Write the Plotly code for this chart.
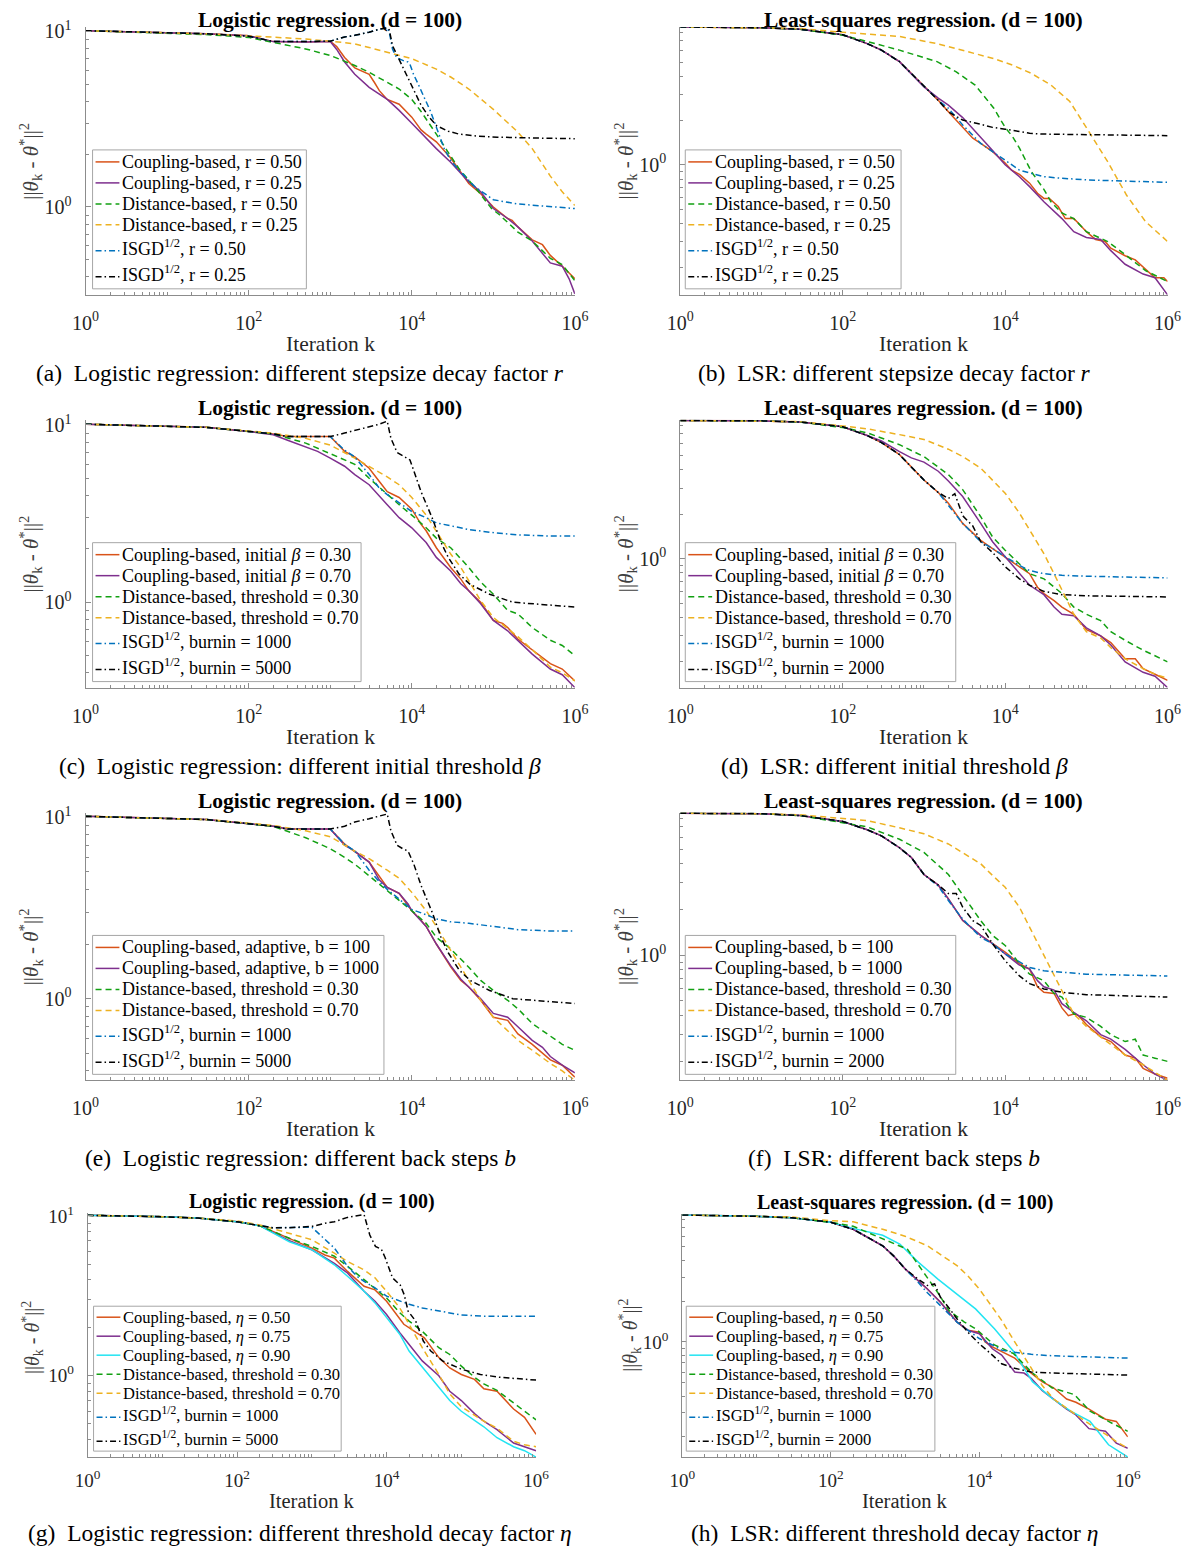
import math
import plotly.graph_objects as go

W, H = 1195, 1548
FONT = "Liberation Serif, Times New Roman, serif"

C_ORANGE = "#D95319"
C_PURPLE = "#7E2F8E"
C_GREEN = "#12A012"
C_YELLOW = "#EDB120"
C_BLUE = "#0072BD"
C_BLACK = "#000000"
C_CYAN = "#22E4F2"

X_TICKS = [1, 100, 1e4, 1e6]
X_TICK_TEXT = ["10<sup>0</sup>", "10<sup>2</sup>", "10<sup>4</sup>", "10<sup>6</sup>"]
Y_TICKS_LOGREG = [1, 10]
Y_TICK_TEXT_LOGREG = ["10<sup>0</sup>", "10<sup>1</sup>"]
Y_TICKS_LSR = [1]
Y_TICK_TEXT_LSR = ["10<sup>0</sup>"]

a_coup050 = [(1, 10.1), (10, 9.8), (30, 9.7), (100, 9.45), (200, 8.75), (500, 8.7), (1000, 8.8), (1200, 8.2),
             (1500, 7.1), (2000, 6.2), (2500, 5.95), (3000, 5.7), (3500, 5.1), (4000, 4.6), (5000, 4.1),
             (7000, 3.85), (1e4, 3.25), (1.3e4, 2.75), (1.5e4, 2.6), (2e4, 2.35), (3e4, 1.9), (5e4, 1.36),
             (7e4, 1.19), (1e5, 1.0), (1.5e5, 0.86), (1.7e5, 0.84), (2e5, 0.77), (3e5, 0.65), (4e5, 0.61),
             (5e5, 0.53), (7e5, 0.46), (1e6, 0.39)]
a_coup025 = [(1, 10.1), (10, 9.8), (30, 9.7), (100, 9.45), (200, 8.75), (500, 8.7), (1000, 8.75), (1200, 7.9),
             (1500, 6.7), (2000, 5.7), (3000, 4.8), (5000, 4.1), (7000, 3.55), (1e4, 3.0), (1.5e4, 2.45),
             (2e4, 2.15), (3e4, 1.8), (5e4, 1.39), (7e4, 1.22), (1e5, 0.98), (1.5e5, 0.86), (2e5, 0.77),
             (3e5, 0.64), (5e5, 0.48), (7e5, 0.46), (8.5e5, 0.39), (1e6, 0.32)]
a_dist050 = [(1, 10.1), (10, 9.8), (30, 9.6), (100, 9.25), (200, 8.7), (500, 7.95), (1000, 7.3), (1500, 6.8),
             (2000, 6.4), (3000, 5.85), (5000, 5.1), (7000, 4.7), (1e4, 4.1), (1.3e4, 3.5), (2e4, 2.6),
             (2.8e4, 2.05), (3.8e4, 1.65), (6.6e4, 1.22), (9.5e4, 0.98), (1.2e5, 0.9), (2e5, 0.72), (3e5, 0.64),
             (5e5, 0.51), (7e5, 0.47), (1e6, 0.38)]
a_dist025 = [(1, 10.1), (10, 9.8), (30, 9.7), (100, 9.45), (200, 9.3), (500, 9.05), (1000, 8.8), (2000, 8.5),
             (3000, 8.1), (5000, 7.6), (1e4, 7.0), (2e4, 6.1), (3e4, 5.5), (5e4, 4.7), (1e5, 3.6), (2e5, 2.67),
             (3e5, 2.15), (5e5, 1.5), (7e5, 1.22), (1e6, 1.02)]
a_isgd050 = [(1, 10.1), (10, 9.8), (30, 9.7), (100, 9.4), (200, 8.75), (500, 8.75), (1000, 8.8), (1500, 9.3),
             (2000, 9.5), (3000, 9.9), (4000, 10.3), (5000, 10.5), (5300, 9.9), (5800, 7.95), (6500, 7.1),
             (8000, 6.8), (9000, 6.7), (9500, 6.5), (10500, 5.7), (12000, 5.0), (14000, 4.3), (17000, 3.5),
             (2e4, 2.85), (2.5e4, 2.15), (3e4, 1.84), (4e4, 1.58), (6e4, 1.3), (8e4, 1.18), (1e5, 1.1),
             (2e5, 1.04), (4e5, 1.01), (1e6, 0.98)]
a_isgd025 = [(1, 10.1), (10, 9.8), (30, 9.7), (100, 9.4), (200, 8.75), (500, 8.75), (1000, 8.8), (1500, 9.3),
             (2000, 9.5), (3000, 9.9), (4000, 10.3), (5000, 10.5), (5300, 10.2), (5800, 8.3), (6900, 7.0),
             (8500, 5.7), (10500, 4.6), (13000, 3.8), (16300, 3.25), (20300, 2.9), (28000, 2.7), (38000, 2.6),
             (66000, 2.53), (1.12e5, 2.5), (3.4e5, 2.47), (1e6, 2.45)]

b_coup050 = [(1, 8.7), (10, 8.6), (30, 8.4), (100, 7.7), (200, 6.7), (300, 6.05), (500, 5.05), (700, 4.2),
             (1000, 3.4), (1500, 2.75), (2000, 2.3), (3000, 1.82), (4000, 1.52), (5000, 1.4), (7000, 1.23),
             (1e4, 1.03), (1.2e4, 0.92), (1.5e4, 0.86), (2e4, 0.75), (2.5e4, 0.64), (3e4, 0.59), (3.5e4, 0.59),
             (4.5e4, 0.52), (5.5e4, 0.43), (7e4, 0.43), (8e4, 0.4), (1e5, 0.35), (1.3e5, 0.31), (1.7e5, 0.3),
             (2e5, 0.27), (3e5, 0.24), (4e5, 0.225), (5e5, 0.2), (7e5, 0.17), (9e5, 0.17), (1e6, 0.16)]
b_coup025 = [(1, 8.7), (10, 8.6), (30, 8.4), (100, 7.7), (200, 6.7), (300, 6.05), (500, 5.05), (700, 4.2),
             (1000, 3.4), (1500, 2.85), (2000, 2.55), (3000, 2.1), (5000, 1.55), (7000, 1.25), (1e4, 1.0),
             (1.5e4, 0.83), (2e4, 0.71), (3e4, 0.56), (5e4, 0.43), (7e4, 0.35), (1e5, 0.32), (1.5e5, 0.31),
             (2e5, 0.26), (3e5, 0.21), (5e5, 0.18), (7e5, 0.17), (1e6, 0.13)]
b_dist050 = [(1, 8.7), (10, 8.6), (30, 8.4), (100, 7.65), (170, 7.1), (500, 6.05), (1450, 5.05), (2500, 4.3),
             (4270, 3.5), (7250, 2.43), (1e4, 1.8), (12400, 1.55), (15000, 1.3), (21000, 0.9), (3e4, 0.68),
             (36600, 0.56), (5e4, 0.47), (7e4, 0.43), (1e5, 0.35), (1.83e5, 0.3), (3.13e5, 0.24),
             (5.36e5, 0.19), (1e6, 0.16)]
b_dist025 = [(1, 8.7), (10, 8.6), (30, 8.5), (100, 8.0), (200, 7.8), (500, 7.5), (1450, 6.7), (4270, 5.75),
             (7250, 5.3), (12400, 4.78), (21000, 4.2), (36600, 3.5), (62600, 2.7), (1.07e5, 1.69),
             (1.83e5, 1.05), (3.13e5, 0.62), (5.36e5, 0.41), (1e6, 0.3)]
b_isgd050 = [(1, 8.7), (10, 8.6), (30, 8.4), (100, 7.7), (200, 6.7), (300, 6.05), (500, 5.05), (700, 4.2),
             (1000, 3.4), (1500, 2.75), (2000, 2.43), (3000, 1.87), (5000, 1.4), (7000, 1.23), (1e4, 1.08),
             (1.5e4, 0.92), (2e4, 0.88), (3e4, 0.83), (5e4, 0.81), (1e5, 0.79), (2e5, 0.78), (1e6, 0.76)]
b_isgd025 = [(1, 8.7), (10, 8.6), (30, 8.4), (100, 7.7), (200, 6.7), (300, 6.05), (500, 5.05), (700, 4.2),
             (1000, 3.4), (1500, 2.75), (2000, 2.3), (3000, 2.02), (5000, 1.89), (7000, 1.8), (1e4, 1.75),
             (2e4, 1.64), (3e4, 1.62), (1e5, 1.6), (1e6, 1.58)]

c_coup030 = [(1, 10.1), (10, 9.8), (30, 9.7), (100, 9.2), (200, 8.9), (300, 8.6), (500, 8.6), (1000, 8.6),
             (1500, 7.1), (2000, 6.6), (2500, 6.1), (3000, 5.7), (4000, 4.8), (5000, 4.2), (7000, 3.9),
             (1e4, 3.35), (1.3e4, 2.75), (1.5e4, 2.53), (2e4, 2.03), (3e4, 1.57), (4e4, 1.35), (5e4, 1.16),
             (7e4, 1.0), (1e5, 0.79), (1.3e5, 0.76), (1.5e5, 0.72), (2e5, 0.62), (3e5, 0.54), (5e5, 0.45),
             (7e5, 0.42), (1e6, 0.36)]
c_coup070 = [(1, 10.1), (10, 9.8), (30, 9.7), (100, 9.2), (200, 8.8), (300, 8.2), (500, 7.55), (700, 7.1),
             (1000, 6.5), (1500, 5.85), (2000, 5.25), (3000, 4.6), (5000, 3.55), (7000, 3.0), (1e4, 2.63),
             (1.5e4, 2.17), (2e4, 1.79), (3e4, 1.5), (4e4, 1.27), (5e4, 1.16), (7e4, 0.98), (1e5, 0.79),
             (1.5e5, 0.69), (2e5, 0.61), (3e5, 0.51), (5e5, 0.42), (7e5, 0.39), (1e6, 0.33)]
c_dist030 = [(1, 10.1), (10, 9.8), (30, 9.7), (100, 9.2), (200, 8.9), (500, 7.9), (1000, 6.9), (1500, 6.35),
             (2000, 6.0), (3000, 5.0), (5000, 4.05), (7000, 3.55), (1e4, 3.1), (1.5e4, 2.63), (2e4, 2.3),
             (3e4, 2.03), (5e4, 1.57), (7e4, 1.3), (1e5, 1.11), (1.5e5, 0.9), (2e5, 0.86), (3e5, 0.72),
             (5e5, 0.61), (7e5, 0.57), (1e6, 0.5)]
c_dist070 = [(1, 10.1), (10, 9.8), (30, 9.7), (100, 9.25), (200, 9.0), (500, 8.4), (1000, 7.7), (2000, 6.5),
             (3000, 5.85), (5000, 5.1), (7000, 4.6), (1e4, 3.9), (1.5e4, 3.1), (2e4, 2.52), (3e4, 1.87),
             (4e4, 1.57), (5e4, 1.32), (7e4, 1.02), (1e5, 0.82), (2e5, 0.64), (3e5, 0.54), (5e5, 0.43),
             (7e5, 0.4), (1e6, 0.36)]
c_isgd1000 = [(1, 10.1), (10, 9.8), (30, 9.7), (100, 9.2), (200, 8.9), (300, 8.6), (500, 8.6), (1000, 8.6),
              (1500, 7.2), (2000, 6.6), (3000, 5.25), (4000, 4.4), (5000, 4.05), (7000, 3.65), (1e4, 3.25),
              (1.5e4, 3.0), (2e4, 2.8), (3e4, 2.7), (5e4, 2.57), (1e5, 2.47), (2e5, 2.4), (5e5, 2.36),
              (1e6, 2.36)]
c_isgd5000 = [(1, 10.1), (10, 9.8), (30, 9.7), (100, 9.2), (200, 8.9), (300, 8.6), (500, 8.6), (1000, 8.6),
              (1500, 9.0), (2000, 9.3), (3000, 9.8), (4000, 10.1), (5000, 10.5), (5550, 8.4), (6600, 7.0),
              (7740, 6.7), (9000, 6.5), (9500, 6.35), (10600, 5.5), (13000, 4.2), (18000, 2.95),
              (22600, 2.2), (28000, 1.79), (38000, 1.44), (52000, 1.26), (90000, 1.11), (1.73e5, 1.0),
              (3.2e5, 0.98), (1e6, 0.94)]

d_coup030 = [(1, 8.6), (10, 8.55), (30, 8.4), (100, 7.8), (200, 6.8), (300, 6.1), (500, 5.05), (700, 4.2),
             (1000, 3.4), (1500, 2.8), (2000, 2.37), (3000, 1.73), (5000, 1.33), (7000, 1.17), (1e4, 1.03),
             (1.5e4, 0.88), (2e4, 0.79), (2.5e4, 0.64), (3e4, 0.58), (4e4, 0.52), (5e4, 0.47), (7e4, 0.42),
             (1e5, 0.33), (1.5e5, 0.3), (2e5, 0.27), (3e5, 0.21), (4e5, 0.21), (5e5, 0.18), (7e5, 0.165),
             (1e6, 0.15)]
d_coup070 = [(1, 8.6), (10, 8.55), (30, 8.4), (100, 7.8), (200, 6.8), (300, 6.25), (500, 5.3), (700, 4.8),
             (1000, 4.5), (1500, 3.9), (2000, 3.35), (3000, 2.63), (5000, 1.73), (7000, 1.3), (1e4, 1.03),
             (1.5e4, 0.8), (2e4, 0.66), (3e4, 0.57), (4e4, 0.47), (5e4, 0.42), (7e4, 0.41), (1e5, 0.34),
             (1.5e5, 0.3), (2e5, 0.26), (3e5, 0.2), (5e5, 0.17), (7e5, 0.16), (1e6, 0.134)]
d_dist030 = [(1, 8.6), (10, 8.55), (30, 8.4), (100, 7.7), (200, 7.1), (500, 5.9), (1000, 4.9), (2000, 3.7),
             (3000, 2.93), (5000, 1.92), (7000, 1.4), (1e4, 1.14), (1.5e4, 0.92), (2e4, 0.79), (3e4, 0.73),
             (4e4, 0.64), (5e4, 0.58), (7e4, 0.47), (1e5, 0.42), (1.5e5, 0.38), (2e5, 0.32), (3e5, 0.28),
             (5e5, 0.24), (7e5, 0.22), (1e6, 0.2)]
d_dist070 = [(1, 8.6), (10, 8.55), (30, 8.45), (100, 7.9), (200, 7.55), (500, 6.9), (1000, 6.4), (2000, 5.5),
             (3000, 4.9), (5000, 4.1), (7000, 3.4), (1e4, 2.77), (1.5e4, 2.03), (2e4, 1.56), (3e4, 1.08),
             (4e4, 0.79), (5e4, 0.61), (7e4, 0.42), (1e5, 0.32), (1.5e5, 0.29), (2e5, 0.25), (3e5, 0.21),
             (5e5, 0.18), (7e5, 0.165), (1e6, 0.155)]
d_isgd1000 = [(1, 8.6), (10, 8.55), (30, 8.4), (100, 7.8), (200, 6.8), (300, 6.1), (500, 5.05), (700, 4.2),
              (1000, 3.4), (1500, 2.8), (2000, 2.3), (3000, 1.73), (5000, 1.3), (7000, 1.17), (1e4, 1.03),
              (1.5e4, 0.9), (2e4, 0.83), (3e4, 0.79), (5e4, 0.77), (1e5, 0.76), (1e6, 0.74)]
d_isgd2000 = [(1, 8.6), (10, 8.55), (30, 8.4), (100, 7.8), (200, 6.8), (300, 6.1), (500, 5.05), (700, 4.2),
              (1000, 3.4), (1500, 2.8), (2000, 2.55), (2400, 2.75), (3000, 1.95), (4000, 1.66), (5000, 1.3),
              (7000, 1.1), (1e4, 0.88), (1.5e4, 0.73), (2e4, 0.66), (3e4, 0.6), (5e4, 0.57), (1e5, 0.56),
              (1e6, 0.55)]

e_coup100 = [(1, 10.1), (10, 9.8), (30, 9.7), (100, 9.2), (200, 8.9), (300, 8.6), (1000, 8.6), (1500, 7.1),
             (2000, 6.5), (2500, 6.0), (3000, 5.65), (4000, 4.7), (5000, 4.1), (7000, 3.8), (1e4, 3.05),
             (1.3e4, 2.7), (1.5e4, 2.5), (2e4, 2.0), (3e4, 1.5), (4e4, 1.26), (5e4, 1.16), (7e4, 0.98),
             (1e5, 0.79), (1.5e5, 0.76), (2e5, 0.64), (3e5, 0.56), (5e5, 0.46), (7e5, 0.43), (1e6, 0.37)]
e_coup1000 = [(1, 10.1), (10, 9.8), (30, 9.7), (100, 9.2), (200, 8.9), (300, 8.6), (1000, 8.6), (1500, 7.0),
              (2000, 6.5), (2500, 6.0), (3000, 5.65), (4000, 4.5), (5000, 4.1), (7000, 3.8), (9000, 3.33),
              (1e4, 3.05), (1.5e4, 2.5), (2e4, 2.0), (3e4, 1.52), (4e4, 1.28), (5e4, 1.16), (7e4, 1.0),
              (1e5, 0.83), (1.5e5, 0.79), (2e5, 0.7), (3e5, 0.59), (4e5, 0.54), (5e5, 0.48), (7e5, 0.43),
              (1e6, 0.39)]
e_dist030 = [(1, 10.1), (10, 9.8), (30, 9.7), (100, 9.2), (200, 8.9), (500, 7.7), (1000, 6.7), (1500, 6.0),
             (2000, 5.5), (3000, 4.75), (5000, 3.95), (7000, 3.47), (1e4, 3.05), (1.5e4, 2.6), (2e4, 2.18),
             (3e4, 1.88), (5e4, 1.49), (7e4, 1.26), (1e5, 1.11), (1.5e5, 0.98), (2e5, 0.88), (3e5, 0.73),
             (5e5, 0.62), (7e5, 0.56), (1e6, 0.52)]
e_dist070 = [(1, 10.1), (10, 9.8), (30, 9.7), (100, 9.25), (200, 9.0), (500, 8.4), (1000, 7.8), (2000, 6.5),
             (3000, 5.9), (5000, 5.1), (7000, 4.6), (1e4, 3.85), (1.5e4, 3.05), (2e4, 2.5), (3e4, 1.85),
             (4e4, 1.49), (5e4, 1.26), (7e4, 0.98), (1e5, 0.79), (2e5, 0.59), (3e5, 0.52), (5e5, 0.44),
             (7e5, 0.4), (1e6, 0.355)]
e_isgd1000 = [(1, 10.1), (10, 9.8), (30, 9.7), (100, 9.2), (200, 8.9), (300, 8.6), (1000, 8.6), (1500, 7.1),
              (2000, 6.5), (3000, 5.1), (4000, 4.4), (5000, 4.0), (7000, 3.55), (1e4, 3.1), (1.5e4, 2.9),
              (2e4, 2.75), (3e4, 2.65), (5e4, 2.6), (1e5, 2.5), (2e5, 2.4), (5e5, 2.36), (1e6, 2.36)]
e_isgd5000 = [(1, 10.1), (10, 9.8), (30, 9.7), (100, 9.2), (200, 8.9), (300, 8.6), (1000, 8.6), (1500, 8.9),
              (2000, 9.4), (3000, 9.8), (4000, 10.1), (5000, 10.4), (5550, 8.4), (6600, 7.0), (7740, 6.7),
              (9000, 6.5), (10600, 5.5), (13000, 4.2), (18000, 2.95), (22600, 2.2), (28000, 1.79),
              (38000, 1.44), (52000, 1.26), (90000, 1.11), (1.73e5, 1.0), (3.2e5, 0.98), (1e6, 0.94)]

f_coup100 = [(1, 8.6), (10, 8.55), (30, 8.3), (100, 7.6), (200, 6.7), (300, 6.1), (500, 5.1), (700, 4.4),
             (1000, 3.4), (1500, 2.9), (2000, 2.35), (3000, 1.69), (5000, 1.35), (7000, 1.19), (1e4, 1.05),
             (1.5e4, 0.88), (2e4, 0.81), (2.5e4, 0.62), (3e4, 0.57), (4e4, 0.56), (5e4, 0.45), (6e4, 0.4),
             (7e4, 0.41), (8e4, 0.4), (1e5, 0.35), (1.5e5, 0.29), (2e5, 0.27), (3e5, 0.22), (4e5, 0.21),
             (5e5, 0.18), (7e5, 0.165), (1e6, 0.155)]
f_coup1000 = [(1, 8.6), (10, 8.55), (30, 8.3), (100, 7.6), (200, 6.7), (300, 6.1), (500, 5.1), (700, 4.4),
              (1000, 3.4), (1500, 2.9), (2000, 2.35), (3000, 1.7), (5000, 1.35), (7000, 1.19), (1e4, 1.02),
              (1.5e4, 0.86), (2e4, 0.81), (2.5e4, 0.68), (3e4, 0.62), (4e4, 0.59), (5e4, 0.48), (7e4, 0.42),
              (1e5, 0.37), (1.5e5, 0.3), (2e5, 0.28), (3e5, 0.24), (5e5, 0.19), (7e5, 0.165), (1e6, 0.15)]
f_dist030 = [(1, 8.6), (10, 8.55), (30, 8.3), (100, 7.5), (200, 7.0), (500, 5.8), (1000, 4.75), (2000, 3.4),
             (3000, 2.5), (5000, 1.69), (7000, 1.35), (1e4, 1.16), (1.5e4, 0.88), (2e4, 0.75), (3e4, 0.68),
             (4e4, 0.56), (5e4, 0.53), (7e4, 0.41), (1e5, 0.39), (1.5e5, 0.34), (2e5, 0.3), (3e5, 0.27),
             (4e5, 0.28), (5e5, 0.22), (7e5, 0.21), (1e6, 0.2)]
f_dist070 = [(1, 8.6), (10, 8.55), (30, 8.4), (100, 7.9), (200, 7.7), (500, 6.9), (1000, 6.3), (2000, 5.4),
             (3000, 4.75), (5000, 4.0), (7000, 3.35), (1e4, 2.8), (1.5e4, 2.07), (2e4, 1.53), (3e4, 1.02),
             (4e4, 0.75), (5e4, 0.59), (7e4, 0.41), (1e5, 0.34), (1.5e5, 0.29), (2e5, 0.26), (3e5, 0.22),
             (5e5, 0.19), (7e5, 0.17), (1e6, 0.15)]
f_isgd1000 = [(1, 8.6), (10, 8.55), (30, 8.3), (100, 7.6), (200, 6.7), (300, 6.1), (500, 5.1), (700, 4.4),
              (1000, 3.4), (1500, 2.85), (2000, 2.29), (3000, 1.73), (5000, 1.31), (7000, 1.19), (1e4, 1.02),
              (1.5e4, 0.9), (2e4, 0.83), (3e4, 0.79), (5e4, 0.77), (1e5, 0.75), (1e6, 0.73)]
f_isgd2000 = [(1, 8.6), (10, 8.55), (30, 8.3), (100, 7.6), (200, 6.7), (300, 6.1), (500, 5.1), (700, 4.4),
              (1000, 3.4), (1500, 2.9), (2000, 2.55), (2500, 2.55), (3000, 2.07), (4000, 1.69), (5000, 1.57),
              (7000, 1.19), (1e4, 0.92), (1.5e4, 0.73), (2e4, 0.65), (3e4, 0.6), (5e4, 0.57), (1e5, 0.55),
              (1e6, 0.53)]

g_coup050 = [(1, 10.1), (10, 9.9), (30, 9.7), (100, 9.2), (200, 8.7), (500, 7.2), (1000, 6.3), (1500, 5.7),
             (2000, 5.45), (3000, 4.5), (4000, 4.0), (5000, 3.63), (7000, 3.45), (1e4, 2.93), (1.7e4, 2.1),
             (3.2e4, 1.73), (5e4, 1.3), (7e4, 1.12), (1e5, 1.02), (1.5e5, 0.95), (2e5, 0.83), (3e5, 0.8),
             (5e5, 0.62), (7e5, 0.55), (1e6, 0.43)]
g_coup075 = [(1, 10.1), (10, 9.9), (30, 9.7), (100, 9.2), (200, 8.7), (500, 7.0), (1000, 6.15), (2000, 5.05),
             (3000, 4.4), (5000, 3.38), (7000, 2.93), (1e4, 2.42), (1.5e4, 1.86), (2e4, 1.57), (3e4, 1.24),
             (5e4, 1.0), (7e4, 0.8), (1e5, 0.7), (1.5e5, 0.58), (2e5, 0.52), (3e5, 0.46), (5e5, 0.38),
             (7e5, 0.36), (1e6, 0.34)]
g_coup090 = [(1, 10.1), (10, 9.9), (30, 9.7), (100, 9.2), (200, 8.7), (500, 6.9), (1000, 6.15), (2000, 4.95),
             (3000, 4.2), (5000, 3.38), (7000, 2.86), (1e4, 2.3), (1.5e4, 1.82), (2e4, 1.43), (3e4, 1.13),
             (5e4, 0.85), (7e4, 0.7), (1e5, 0.6), (1.5e5, 0.53), (2e5, 0.48), (3e5, 0.41), (5e5, 0.36),
             (7e5, 0.34), (1e6, 0.31)]
g_dist030 = [(1, 10.1), (10, 9.9), (30, 9.7), (100, 9.2), (200, 8.7), (500, 7.25), (1000, 6.45), (2000, 5.6),
             (3000, 4.85), (5000, 4.0), (7000, 3.55), (1e4, 3.07), (1.5e4, 2.48), (2e4, 2.2), (3e4, 1.9),
             (5e4, 1.5), (7e4, 1.36), (1e5, 1.15), (1.5e5, 0.98), (2e5, 0.89), (3e5, 0.81), (5e5, 0.68),
             (7e5, 0.6), (1e6, 0.53)]
g_dist070 = [(1, 10.1), (10, 9.9), (30, 9.7), (100, 9.3), (200, 8.8), (500, 7.8), (1000, 7.1), (2000, 5.85),
             (3000, 5.2), (5000, 4.6), (7000, 4.1), (1e4, 3.38), (1.5e4, 2.66), (2e4, 2.1), (3e4, 1.5),
             (5e4, 1.02), (7e4, 0.77), (1e5, 0.64), (2e5, 0.52), (3e5, 0.47), (5e5, 0.39), (7e5, 0.37),
             (1e6, 0.36)]
g_isgd1000 = [(1, 10.1), (10, 9.9), (30, 9.7), (100, 9.2), (200, 8.7), (300, 8.45), (1000, 8.5), (1500, 7.1),
              (2000, 6.3), (3000, 4.85), (4000, 4.2), (5000, 3.9), (7000, 3.55), (1e4, 3.15), (1.5e4, 2.93),
              (2e4, 2.8), (3e4, 2.66), (5e4, 2.54), (1e5, 2.4), (2e5, 2.36), (1e6, 2.36)]
g_isgd5000 = [(1, 10.1), (10, 9.9), (30, 9.7), (100, 9.2), (200, 8.7), (300, 8.45), (500, 8.45), (1000, 8.6),
              (1500, 9.0), (2000, 9.2), (3000, 9.8), (4000, 10.05), (5000, 10.2), (5960, 7.6), (7100, 6.45),
              (8500, 6.2), (9550, 5.5), (12000, 4.1), (15200, 3.7), (17200, 3.22), (19400, 2.54),
              (24500, 2.2), (31000, 1.65), (39000, 1.43), (56000, 1.24), (1e5, 1.1), (1.8e5, 1.02),
              (3.2e5, 0.98), (1e6, 0.94)]

h_coup050 = [(1, 8.6), (10, 8.4), (30, 8.2), (100, 7.6), (200, 6.75), (300, 6.0), (500, 5.1), (700, 4.3),
             (1000, 3.45), (2000, 2.45), (3000, 1.96), (5000, 1.4), (7000, 1.22), (1e4, 1.18), (1.2e4, 1.0),
             (1.5e4, 0.92), (2e4, 0.85), (3e4, 0.76), (5e4, 0.59), (7e4, 0.51), (1e5, 0.46), (1.5e5, 0.38),
             (2e5, 0.36), (3e5, 0.32), (5e5, 0.27), (7e5, 0.26), (1e6, 0.2)]
h_coup075 = [(1, 8.6), (10, 8.4), (30, 8.2), (100, 7.6), (200, 6.75), (300, 6.0), (500, 5.1), (700, 4.3),
             (1000, 3.45), (2000, 2.45), (3000, 1.96), (5000, 1.4), (7000, 1.22), (1e4, 1.15), (1.5e4, 0.89),
             (2e4, 0.8), (3e4, 0.6), (4e4, 0.59), (5e4, 0.54), (7e4, 0.44), (1e5, 0.38), (1.5e5, 0.32),
             (2e5, 0.29), (3e5, 0.23), (5e5, 0.22), (7e5, 0.18), (1e6, 0.165)]
h_coup090 = [(1, 8.6), (10, 8.4), (30, 8.2), (100, 7.6), (200, 6.85), (500, 6.1), (850, 5.25), (1520, 3.85),
             (2770, 2.9), (5000, 2.26), (8900, 1.75), (16000, 1.25), (29000, 0.85), (52000, 0.51),
             (95000, 0.385), (1.7e5, 0.31), (3.1e5, 0.26), (5.5e5, 0.175), (1e6, 0.142)]
h_dist030 = [(1, 8.6), (10, 8.4), (30, 8.2), (100, 7.6), (200, 7.1), (500, 5.7), (1080, 4.8), (1930, 3.05),
             (2770, 2.3), (3920, 1.7), (6300, 1.4), (8900, 1.25), (16000, 0.95), (29000, 0.82), (52000, 0.59),
             (95000, 0.46), (1.9e5, 0.41), (3.1e5, 0.31), (5.5e5, 0.26), (1e6, 0.22)]
h_dist070 = [(1, 8.6), (10, 8.4), (30, 8.3), (100, 7.8), (200, 7.65), (500, 6.75), (1000, 6.0), (2000, 5.1),
             (3000, 4.4), (5000, 3.65), (7000, 3.07), (1e4, 2.45), (1.5e4, 1.8), (2e4, 1.44), (3e4, 1.0),
             (5e4, 0.64), (7e4, 0.48), (1e5, 0.38), (2e5, 0.29), (3e5, 0.25), (5e5, 0.21), (7e5, 0.185),
             (1e6, 0.165)]
h_isgd1000 = [(1, 8.6), (10, 8.4), (30, 8.2), (100, 7.6), (200, 6.75), (300, 6.0), (500, 5.1), (700, 4.3),
              (1000, 3.45), (1500, 2.75), (2000, 2.3), (3000, 1.85), (5000, 1.4), (7000, 1.22), (1e4, 1.06),
              (1.5e4, 0.95), (2e4, 0.87), (3e4, 0.84), (5e4, 0.81), (1e5, 0.79), (1e6, 0.76)]
h_isgd2000 = [(1, 8.6), (10, 8.4), (30, 8.2), (100, 7.6), (200, 6.75), (300, 6.0), (500, 5.1), (700, 4.3),
              (1000, 3.45), (1500, 2.9), (2000, 2.6), (2500, 2.67), (3000, 2.13), (4000, 1.75), (5000, 1.48),
              (7000, 1.18), (1e4, 0.97), (1.5e4, 0.8), (2e4, 0.69), (3e4, 0.64), (5e4, 0.6), (1e5, 0.59),
              (1e6, 0.57)]

SOLID, DASH, DASHDOT = "solid", "6px,4px", "6px,3px,1.5px,3px"
ISGD = "ISGD<sup>1/2</sup>"

TITLE_LOG = "<b>Logistic regression. (d = 100)</b>"
TITLE_LSR = "<b>Least-squares regression. (d = 100)</b>"

BIG = dict(fs=20, lfs=18, tfs=21.5, xls=21.5, yls=21, step=21, step_sup=26, first=12, pad=12,
           xlab_dy=49, cap_dy=78, xstand=10)
SMALL = dict(fs=19, lfs=16.5, tfs=20, xls=20.5, yls=20, step=19, step_sup=24, first=11, pad=10,
             xlab_dy=44, cap_dy=76, xstand=6)

PANELS = [
    dict(x=(83, 575), y=(25, 293), yr=(0.316, 10.6), yt=(Y_TICKS_LOGREG, Y_TICK_TEXT_LOGREG), title=TITLE_LOG,
         leg=(90, 148, 215), st=BIG, ylab=(28, 159),
         caption="(a)  Logistic regression: different stepsize decay factor <i>r</i>",
         series=[("Coupling-based, r = 0.50", a_coup050, C_ORANGE, SOLID),
                 ("Coupling-based, r = 0.25", a_coup025, C_PURPLE, SOLID),
                 ("Distance-based, r = 0.50", a_dist050, C_GREEN, DASH),
                 ("Distance-based, r = 0.25", a_dist025, C_YELLOW, DASH),
                 (ISGD + ", r = 0.50", a_isgd050, C_BLUE, DASHDOT),
                 (ISGD + ", r = 0.25", a_isgd025, C_BLACK, DASHDOT)]),
    dict(x=(681, 1171), y=(25, 293), yr=(0.13, 8.7), yt=(Y_TICKS_LSR, Y_TICK_TEXT_LSR), title=TITLE_LSR,
         leg=(686, 148, 217), st=BIG, ylab=(626, 159),
         caption="(b)  LSR: different stepsize decay factor <i>r</i>",
         series=[("Coupling-based, r = 0.50", b_coup050, C_ORANGE, SOLID),
                 ("Coupling-based, r = 0.25", b_coup025, C_PURPLE, SOLID),
                 ("Distance-based, r = 0.50", b_dist050, C_GREEN, DASH),
                 ("Distance-based, r = 0.25", b_dist025, C_YELLOW, DASH),
                 (ISGD + ", r = 0.50", b_isgd050, C_BLUE, DASHDOT),
                 (ISGD + ", r = 0.25", b_isgd025, C_BLACK, DASHDOT)]),
    dict(x=(83, 575), y=(418, 686), yr=(0.33, 10.7), yt=(Y_TICKS_LOGREG, Y_TICK_TEXT_LOGREG), title=TITLE_LOG,
         leg=(90, 541, 270), st=BIG, ylab=(28, 552),
         caption="(c)  Logistic regression: different initial threshold <i>β</i>",
         series=[("Coupling-based, initial <i>β</i> = 0.30", c_coup030, C_ORANGE, SOLID),
                 ("Coupling-based, initial <i>β</i> = 0.70", c_coup070, C_PURPLE, SOLID),
                 ("Distance-based, threshold = 0.30", c_dist030, C_GREEN, DASH),
                 ("Distance-based, threshold = 0.70", c_dist070, C_YELLOW, DASH),
                 (ISGD + ", burnin = 1000", c_isgd1000, C_BLUE, DASHDOT),
                 (ISGD + ", burnin = 5000", c_isgd5000, C_BLACK, DASHDOT)]),
    dict(x=(681, 1171), y=(418, 686), yr=(0.134, 8.7), yt=(Y_TICKS_LSR, Y_TICK_TEXT_LSR), title=TITLE_LSR,
         leg=(686, 541, 272), st=BIG, ylab=(626, 552),
         caption="(d)  LSR: different initial threshold <i>β</i>",
         series=[("Coupling-based, initial <i>β</i> = 0.30", d_coup030, C_ORANGE, SOLID),
                 ("Coupling-based, initial <i>β</i> = 0.70", d_coup070, C_PURPLE, SOLID),
                 ("Distance-based, threshold = 0.30", d_dist030, C_GREEN, DASH),
                 ("Distance-based, threshold = 0.70", d_dist070, C_YELLOW, DASH),
                 (ISGD + ", burnin = 1000", d_isgd1000, C_BLUE, DASHDOT),
                 (ISGD + ", burnin = 2000", d_isgd2000, C_BLACK, DASHDOT)]),
    dict(x=(83, 575), y=(811, 1079), yr=(0.355, 10.6), yt=(Y_TICKS_LOGREG, Y_TICK_TEXT_LOGREG), title=TITLE_LOG,
         leg=(90, 934, 293), st=BIG, ylab=(28, 945),
         caption="(e)  Logistic regression: different back steps <i>b</i>",
         series=[("Coupling-based, adaptive, b = 100", e_coup100, C_ORANGE, SOLID),
                 ("Coupling-based, adaptive, b = 1000", e_coup1000, C_PURPLE, SOLID),
                 ("Distance-based, threshold = 0.30", e_dist030, C_GREEN, DASH),
                 ("Distance-based, threshold = 0.70", e_dist070, C_YELLOW, DASH),
                 (ISGD + ", burnin = 1000", e_isgd1000, C_BLUE, DASHDOT),
                 (ISGD + ", burnin = 5000", e_isgd5000, C_BLACK, DASHDOT)]),
    dict(x=(681, 1171), y=(811, 1079), yr=(0.15, 8.7), yt=(Y_TICKS_LSR, Y_TICK_TEXT_LSR), title=TITLE_LSR,
         leg=(686, 934, 272), st=BIG, ylab=(626, 945),
         caption="(f)  LSR: different back steps <i>b</i>",
         series=[("Coupling-based, b = 100", f_coup100, C_ORANGE, SOLID),
                 ("Coupling-based, b = 1000", f_coup1000, C_PURPLE, SOLID),
                 ("Distance-based, threshold = 0.30", f_dist030, C_GREEN, DASH),
                 ("Distance-based, threshold = 0.70", f_dist070, C_YELLOW, DASH),
                 (ISGD + ", burnin = 1000", f_isgd1000, C_BLUE, DASHDOT),
                 (ISGD + ", burnin = 2000", f_isgd2000, C_BLACK, DASHDOT)]),
    dict(x=(85, 536), y=(1212, 1456), yr=(0.31, 10.4), yt=(Y_TICKS_LOGREG, Y_TICK_TEXT_LOGREG), title=TITLE_LOG,
         leg=(91, 1305, 249), st=SMALL, ylab=(30, 1336),
         caption="(g)  Logistic regression: different threshold decay factor <i>η</i>",
         series=[("Coupling-based, <i>η</i> = 0.50", g_coup050, C_ORANGE, SOLID),
                 ("Coupling-based, <i>η</i> = 0.75", g_coup075, C_PURPLE, SOLID),
                 ("Coupling-based, <i>η</i> = 0.90", g_coup090, C_CYAN, SOLID),
                 ("Distance-based, threshold = 0.30", g_dist030, C_GREEN, DASH),
                 ("Distance-based, threshold = 0.70", g_dist070, C_YELLOW, DASH),
                 (ISGD + ", burnin = 1000", g_isgd1000, C_BLUE, DASHDOT),
                 (ISGD + ", burnin = 5000", g_isgd5000, C_BLACK, DASHDOT)]),
    dict(x=(683, 1131), y=(1213, 1456), yr=(0.142, 8.7), yt=(Y_TICKS_LSR, Y_TICK_TEXT_LSR), title=TITLE_LSR,
         leg=(687, 1305, 250), st=SMALL, ylab=(631, 1334),
         caption="(h)  LSR: different threshold decay factor <i>η</i>",
         series=[("Coupling-based, <i>η</i> = 0.50", h_coup050, C_ORANGE, SOLID),
                 ("Coupling-based, <i>η</i> = 0.75", h_coup075, C_PURPLE, SOLID),
                 ("Coupling-based, <i>η</i> = 0.90", h_coup090, C_CYAN, SOLID),
                 ("Distance-based, threshold = 0.30", h_dist030, C_GREEN, DASH),
                 ("Distance-based, threshold = 0.70", h_dist070, C_YELLOW, DASH),
                 (ISGD + ", burnin = 1000", h_isgd1000, C_BLUE, DASHDOT),
                 (ISGD + ", burnin = 2000", h_isgd2000, C_BLACK, DASHDOT)]),
]

YLABEL = "||<i>θ</i><sub>k</sub> - <i>θ</i><sup>*</sup>||<sup>2</sup>"
TXT = "#262626"
AXC = "#8c8c8c"

minor_x = [m * 10 ** e for e in range(0, 6) for m in range(2, 10)] + [10, 1000, 1e5]
minor_y = [m * 10 ** e for e in (-1, 0, 1) for m in range(2, 10)]

# The photograph shows the page slightly inset and scaled; target positions (photo pixels)
# are mapped back to figure pixels with the placement measured from a test frame.
PHOTO_OX, PHOTO_OY = 11.0, 9.0
PHOTO_SX, PHOTO_SY = 0.982, 0.9935


def to_fig_x(px):
    return (px - PHOTO_OX) / PHOTO_SX


def to_fig_y(py):
    return (py - PHOTO_OY) / PHOTO_SY


def fx(px):
    return to_fig_x(px) / W


def fy(py):
    return 1 - to_fig_y(py) / H


def fy_clamped(py, lo, hi):
    v = min(max(to_fig_y(py), lo), hi)
    return 1 - v / H


fig = go.Figure()
annotations = []
shapes = []
layout = {}

for i, p in enumerate(PANELS):
    n = i + 1
    st = p["st"]
    sfx = "" if n == 1 else str(n)
    xa, ya = "x" + sfx, "y" + sfx
    for name, data, color, dash in p["series"]:
        fig.add_trace(go.Scatter(
            x=[d[0] for d in data], y=[d[1] for d in data], mode="lines", name=name,
            line=dict(color=color, width=1.5, dash=dash), xaxis=xa, yaxis=ya, showlegend=False))
    x0, x1 = p["x"]
    y0, y1 = p["y"]
    layout["xaxis" + sfx] = dict(
        domain=[fx(x0), fx(x1)], anchor=ya, type="log", range=[0, 6],
        tickvals=X_TICKS, ticktext=X_TICK_TEXT, ticks="inside", ticklen=5, tickcolor=AXC,
        showline=True, linecolor=AXC, linewidth=1, showgrid=False, zeroline=False,
        tickfont=dict(family=FONT, size=st["fs"], color=TXT), ticklabelstandoff=st["xstand"],
        minor=dict(tickvals=minor_x, ticks="inside", ticklen=3, tickcolor=AXC, showgrid=False))
    layout["yaxis" + sfx] = dict(
        domain=[fy(y1), fy(y0)], anchor=xa, type="log",
        range=[math.log10(p["yr"][0]), math.log10(p["yr"][1])],
        tickvals=p["yt"][0], ticktext=p["yt"][1], ticks="inside", ticklen=5, tickcolor=AXC,
        showline=True, linecolor=AXC, linewidth=1, showgrid=False, zeroline=False,
        tickfont=dict(family=FONT, size=st["fs"], color=TXT), ticklabelstandoff=9,
        minor=dict(tickvals=minor_y, ticks="inside", ticklen=3, tickcolor=AXC, showgrid=False))

    lx, ly, lw = p["leg"]
    rows = []
    yy = ly + st["first"]
    for j, (name, data, color, dash) in enumerate(p["series"]):
        if j > 0:
            yy += st["step_sup"] if "<sup>" in name else st["step"]
        rows.append((yy, name, color, dash))
    lb = yy + st["pad"]
    shapes.append(dict(type="rect", xref="paper", yref="paper", x0=fx(lx), x1=fx(lx + lw),
                       y0=fy(lb), y1=fy(ly), line=dict(color="#a6a6a6", width=1), fillcolor="white",
                       layer="above"))
    for yy, name, color, dash in rows:
        shapes.append(dict(type="line", xref="paper", yref="paper", x0=fx(lx + 3), x1=fx(lx + 27),
                           y0=fy(yy), y1=fy(yy), line=dict(color=color, width=1.5, dash=dash),
                           layer="above"))
        dy = -3 if "<sup>" in name else 0
        annotations.append(dict(text=name, x=fx(lx + 28), y=fy(yy + dy), xref="paper", yref="paper",
                                xanchor="left", yanchor="middle", showarrow=False,
                                font=dict(family=FONT, size=st["lfs"], color="#000000")))

    cx = (x0 + x1) / 2
    annotations.append(dict(text=p["title"], x=fx(cx), y=fy_clamped(y0 - 12, 9, H), xref="paper",
                            yref="paper", xanchor="center", yanchor="middle", showarrow=False,
                            font=dict(family=FONT, size=st["tfs"], color="#000000")))
    annotations.append(dict(text="Iteration k", x=fx(cx), y=fy(y1 + st["xlab_dy"]),
                            xref="paper", yref="paper", xanchor="center", yanchor="middle",
                            showarrow=False, font=dict(family=FONT, size=st["xls"], color=TXT)))
    colx = 298.75 if n % 2 == 1 else 896.25
    annotations.append(dict(text=p["caption"], x=fx(colx), y=fy_clamped(y1 + st["cap_dy"], 0, H - 11),
                            xref="paper", yref="paper", xanchor="center", yanchor="middle",
                            showarrow=False, font=dict(family=FONT, size=23.5, color="#000000")))
    annotations.append(dict(text=YLABEL, x=fx(p["ylab"][0]), y=fy(p["ylab"][1]),
                            xref="paper", yref="paper", xanchor="center", yanchor="middle",
                            textangle=-90, showarrow=False,
                            font=dict(family=FONT, size=st["yls"], color="#404040")))

fig.update_layout(
    width=W, height=H, margin=dict(l=0, r=0, t=0, b=0),
    paper_bgcolor="white", plot_bgcolor="white", showlegend=False,
    annotations=annotations, shapes=shapes, **layout)

fig.write_html("out.html")
